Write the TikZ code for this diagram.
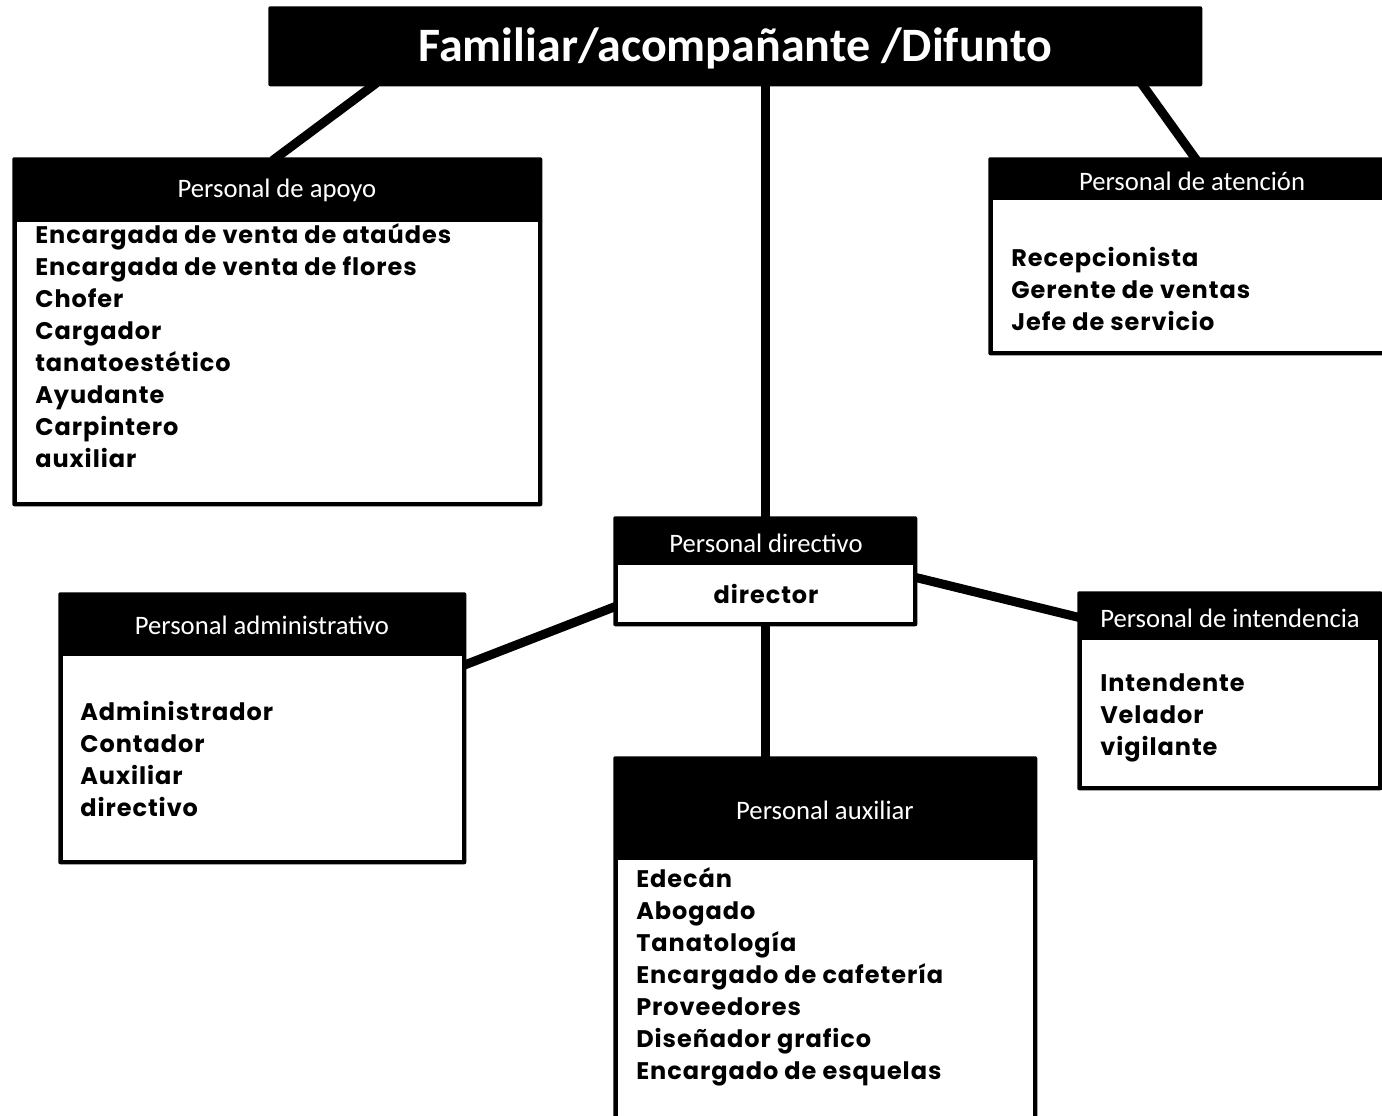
\documentclass[tikz,border=0pt]{standalone}
\usepackage{fontspec}
\usetikzlibrary{calc}
\newfontfamily\hdfont{Carlito}
\newfontfamily\bdfont[LetterSpace=4]{Poppins}
\newdimen\px \px=0.75pt
\pgfdeclarelayer{bgw}
\pgfdeclarelayer{bg}
\pgfsetlayers{bgw,bg,main}
\newcommand\orgbox[6]{%
  \node[boxn, minimum width=#4\px, minimum height=#5\px] (#1) at (#2,#3) {};
  \fill[white] ($(#1.south west)+(5,-5)$) rectangle ($(#1.north east)+(-5,#6)$);
}
\begin{document}
\begin{tikzpicture}[x=0.75pt, y=-0.75pt,
  boxn/.style={anchor=north west, fill=black, inner sep=0pt, rounded corners=1.5pt},
  hd/.style={text=white, font=\hdfont\fontsize{20}{22}\selectfont, inner sep=0pt},
  item/.style={font=\bdfont\bfseries\fontsize{18}{20}\selectfont, anchor=base west, inner sep=0pt},
  conn/.style={line width=9\px, black, shorten <=-6\px, shorten >=-6\px}]
\useasboundingbox (0,0) rectangle (1382,1115);
\clip (0,0) rectangle (1382,1115);
\begin{pgfonlayer}{bgw}
\fill[white] (0,0) rectangle (1382,1115);
\end{pgfonlayer}

% title
\node[boxn, minimum width=934\px, minimum height=80\px] (title) at (268,6) {};
\node[text=white, font=\hdfont\bfseries\fontsize{36}{40}\selectfont, inner sep=0pt] (titletext) at ($(title.center)+(0,2)$) {Familiar/acompañante /Difunto};

% boxes
\orgbox{apoyo}{12}{157}{530}{349}{65}
\orgbox{aten}{988}{157}{412}{198}{43}
\orgbox{dir}{613}{516}{304}{110}{49}
\orgbox{admin}{58}{592}{408}{272}{64}
\orgbox{inten}{1077}{591}{305}{199}{49}
\orgbox{aux}{613}{756}{424}{380}{104}

% connectors
\begin{pgfonlayer}{bg}
\draw[conn] ($(title.south west)!0.111!(title.south east)$) -- (apoyo.north);
\draw[conn] ($(title.south west)!0.937!(title.south east)$) -- (aten.north);
\draw[conn] (dir.north) -- (dir.north |- title.south);
\draw[conn] (dir.south) -- (dir.south |- aux.north);
\draw[conn] ($(dir.north west)!0.827!(dir.south west)$) -- ($(admin.north east)!0.265!(admin.south east)$);
\draw[conn] ($(dir.north east)!0.56!(dir.south east)$) -- ($(inten.north west)!0.13!(inten.south west)$);
\end{pgfonlayer}

% headers
\node[hd] (apoyo-h) at (277,190) {Personal de apoyo};
\node[hd] (aten-h) at (1192,181) {Personal de atención};
\node[hd] (dir-h) at (766,543) {Personal directivo};
\node[hd] (admin-h) at (262,625) {Personal administrativo};
\node[hd] (inten-h) at (1230,618) {Personal de intendencia};
\node[hd] (aux-h) at (825,810) {Personal auxiliar};

% items
\foreach \t [count=\i] in {Encargada de venta de ataúdes, Encargada de venta de flores, Chofer, Cargador, tanatoestético, Ayudante, Carpintero, auxiliar}
  \node[item] (apoyo-\i) at (35,{243+32*(\i-1)}) {\t};
\foreach \t [count=\i] in {Recepcionista, Gerente de ventas, Jefe de servicio}
  \node[item] (aten-\i) at (1011,{266+32*(\i-1)}) {\t};
\node[item, anchor=base] (dir-1) at (766,603) {director};
\foreach \t [count=\i] in {Administrador, Contador, Auxiliar, directivo}
  \node[item] (admin-\i) at (80,{720+32*(\i-1)}) {\t};
\foreach \t [count=\i] in {Intendente, Velador, vigilante}
  \node[item] (inten-\i) at (1100,{691+32*(\i-1)}) {\t};
\foreach \t [count=\i] in {Edecán, Abogado, Tanatología, Encargado de cafetería, Proveedores, Diseñador grafico, Encargado de esquelas}
  \node[item] (aux-\i) at (636,{887+32*(\i-1)}) {\t};
\end{tikzpicture}
\end{document}
